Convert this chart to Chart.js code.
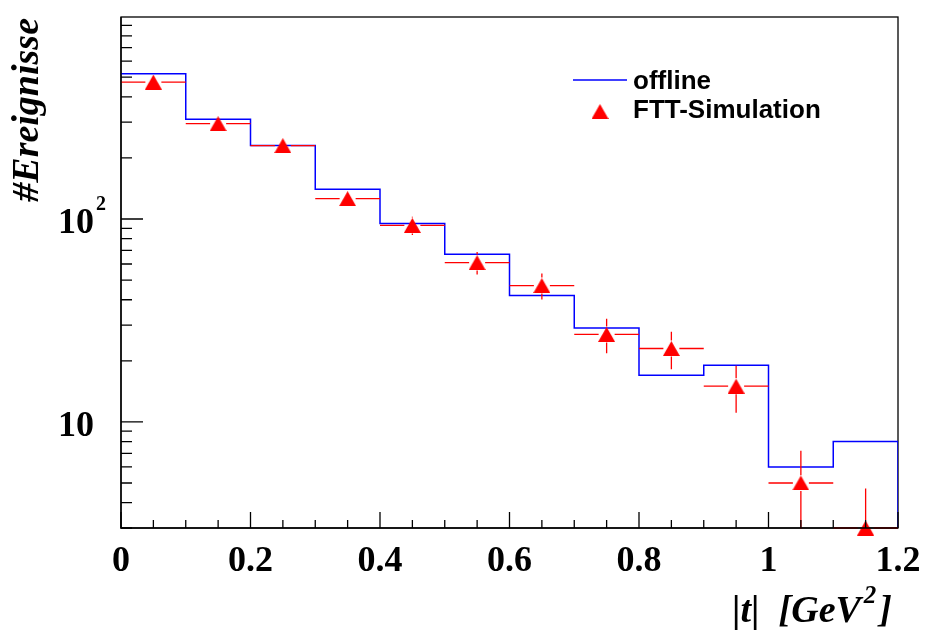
<!DOCTYPE html>
<html>
<head>
<meta charset="utf-8">
<script src="https://cdn.jsdelivr.net/npm/chart.js@4.4.0/dist/chart.umd.min.js"></script>
<style>
  body { margin: 0; background: #fff; }
  #wrap { width: 926px; height: 633px; }
</style>
</head>
<body>
<div id="wrap"><canvas id="tChart" width="926" height="633"></canvas></div>
<script>
// |t| distribution: offline histogram vs FTT simulation

const binEdges = [0, 0.1, 0.2, 0.3, 0.4, 0.5, 0.6, 0.7, 0.8, 0.9, 1.0, 1.1, 1.2];
const binCenters = [0.05, 0.15, 0.25, 0.35, 0.45, 0.55, 0.65, 0.75, 0.85, 0.95, 1.05, 1.15];
const offlineCounts = [520, 310, 230, 140, 95, 67, 42, 29, 17, 19, 6, 8];
const fttCounts = [473, 295, 230, 126, 93, 61, 47, 27, 23, 15, 5, 3];
const fttErrors = [21.7, 17.2, 15.2, 11.2, 9.6, 7.8, 6.9, 5.2, 4.8, 3.9, 2.2, 1.7];

const xTickValues = [0, 0.2, 0.4, 0.6, 0.8, 1.0, 1.2];
const xTickLabels = ['0', '0.2', '0.4', '0.6', '0.8', '1', '1.2'];
const yTickValues = [10, 100];
const yTickBase = ['10', '10'];
const yTickExp = ['', '2'];

const yMin = 3;
const yMax = 990;

const BLUE = '#0000ff';
const RED = '#ff0000';
const SERIF = '"Liberation Serif", "Times New Roman", serif';
const SANS = '"Liberation Sans", Arial, sans-serif';

// histogram outline: one point per left bin edge, stepped, then down to the axis at the end
const offlinePoints = offlineCounts.map((v, i) => ({ x: binEdges[i], y: v }));
offlinePoints.push({ x: binEdges[binEdges.length - 1], y: yMin });

const fttPoints = fttCounts.map((v, i) => ({ x: binCenters[i], y: v }));

// ROOT-like full triangle marker, centred on the point
const marker = document.createElement('canvas');
marker.width = 17;
marker.height = 15;
(function () {
    const m = marker.getContext('2d');
    m.fillStyle = RED;
    m.beginPath();
    m.moveTo(8.5, 0);
    m.lineTo(17, 15);
    m.lineTo(0, 15);
    m.closePath();
    m.fill();
})();

const rootStyle = {
    id: 'rootStyle',
    beforeDatasetsDraw(chart) {
        const a = chart.chartArea;
        const ctx = chart.ctx;
        ctx.save();
        ctx.strokeStyle = '#000';
        ctx.lineWidth = 1.3;
        ctx.strokeRect(a.left, a.top, a.right - a.left, a.bottom - a.top);
        ctx.restore();
    },
    beforeDatasetDraw(chart, args) {
        if (args.index !== 1) return;
        // error bars of the simulation, under the markers
        const xs = chart.scales.x, ys = chart.scales.y, ctx = chart.ctx, a = chart.chartArea;
        ctx.save();
        ctx.beginPath();
        ctx.rect(a.left - 1, a.top - 1, a.right - a.left + 2, a.bottom - a.top + 2);
        ctx.clip();
        ctx.strokeStyle = RED;
        ctx.lineWidth = 1.3;
        const gap = 8;
        fttCounts.forEach((v, i) => {
            const px = xs.getPixelForValue(binCenters[i]);
            const py = ys.getPixelForValue(v);
            const x0 = xs.getPixelForValue(binEdges[i]);
            const x1 = xs.getPixelForValue(binEdges[i + 1]);
            const yHi = ys.getPixelForValue(v + fttErrors[i]);
            const yLo = ys.getPixelForValue(Math.max(v - fttErrors[i], yMin * 0.5));
            ctx.beginPath();
            ctx.moveTo(x0, py); ctx.lineTo(px - gap, py);
            ctx.moveTo(px + gap, py); ctx.lineTo(x1, py);
            if (yHi < py - gap) { ctx.moveTo(px, yHi); ctx.lineTo(px, py - gap); }
            if (yLo > py + gap) { ctx.moveTo(px, py + gap); ctx.lineTo(px, yLo); }
            ctx.stroke();
        });
        ctx.restore();
    },
    afterDraw(chart) {
        const xs = chart.scales.x, ys = chart.scales.y, ctx = chart.ctx, a = chart.chartArea;
        ctx.save();
        ctx.strokeStyle = '#000';
        ctx.lineWidth = 1.3;

        // axis lines
        ctx.beginPath();
        ctx.moveTo(a.left, a.top); ctx.lineTo(a.left, a.bottom); ctx.lineTo(a.right, a.bottom);
        ctx.stroke();

        // x ticks (inward): major every 0.2, minor every 0.05
        ctx.beginPath();
        for (let k = 0; k <= 24; k++) {
            const px = xs.getPixelForValue(k * 0.05);
            const len = (k % 4 === 0) ? 16 : 8;
            ctx.moveTo(px, a.bottom); ctx.lineTo(px, a.bottom - len);
        }
        // y ticks (inward), log decades
        for (let dec = 1; dec <= 100; dec *= 10) {
            for (let m = 1; m <= 9; m++) {
                const v = m * dec;
                if (v < yMin || v > yMax) continue;
                const py = ys.getPixelForValue(v);
                const len = (m === 1) ? 22 : 11;
                ctx.moveTo(a.left, py); ctx.lineTo(a.left + len, py);
            }
        }
        ctx.stroke();

        ctx.fillStyle = '#000';
        // x tick labels
        ctx.font = 'bold 36px ' + SERIF;
        ctx.textAlign = 'center';
        ctx.textBaseline = 'alphabetic';
        xTickValues.forEach((v, i) => {
            ctx.fillText(xTickLabels[i], xs.getPixelForValue(v), a.bottom + 43);
        });

        // y tick labels with exponent
        yTickValues.forEach((v, i) => {
            const py = ys.getPixelForValue(v);
            ctx.font = 'bold 36px ' + SERIF;
            ctx.textAlign = 'right';
            ctx.fillText(yTickBase[i], 94, py + 14);
            if (yTickExp[i]) {
                ctx.font = 'bold 20px ' + SERIF;
                ctx.textAlign = 'left';
                ctx.fillText(yTickExp[i], 96, py - 9);
            }
        });

        // y title
        ctx.save();
        ctx.translate(38, 18);
        ctx.rotate(-Math.PI / 2);
        ctx.font = 'italic bold 38px ' + SERIF;
        ctx.textAlign = 'right';
        ctx.fillText('#Ereignisse', 0, 0);
        ctx.restore();

        // x title: |t| [GeV^2]
        const mainFont = 'italic bold 38px ' + SERIF;
        const supFont = 'italic bold 25px ' + SERIF;
        ctx.textAlign = 'left';
        ctx.font = mainFont;
        const w1 = ctx.measureText('|t|  [GeV').width;
        const w3 = ctx.measureText(']').width;
        ctx.font = supFont;
        const w2 = ctx.measureText('2').width + 6;
        let tx = 892 - (w1 + w2 + w3);
        ctx.font = mainFont;
        ctx.fillText('|t|  [GeV', tx, 622);
        ctx.font = supFont;
        ctx.fillText('2', tx + w1 + 3, 603);
        ctx.font = mainFont;
        ctx.fillText(']', tx + w1 + w2, 622);

        // legend
        ctx.strokeStyle = BLUE;
        ctx.lineWidth = 1.5;
        ctx.beginPath();
        ctx.moveTo(573, 80); ctx.lineTo(627, 80);
        ctx.stroke();
        ctx.drawImage(marker, 600 - 8.5, 104);
        ctx.fillStyle = '#000';
        ctx.font = 'bold 26px ' + SANS;
        ctx.textAlign = 'left';
        ctx.fillText('offline', 633, 89);
        ctx.fillText('FTT-Simulation', 633, 118);
        ctx.restore();
    }
};

const ctx = document.getElementById('tChart').getContext('2d');
const tChart = new Chart(ctx, {
    type: 'line',
    data: {
        datasets: [{
            label: 'offline',
            data: offlinePoints,
            stepped: 'before',
            borderColor: BLUE,
            borderWidth: 1.5,
            pointRadius: 0,
            fill: false,
            order: 2
        }, {
            label: 'FTT-Simulation',
            data: fttPoints,
            showLine: false,
            pointStyle: marker,
            pointRadius: 9,
            backgroundColor: RED,
            borderColor: RED,
            borderWidth: 0,
            clip: false,
            order: 1
        }]
    },
    options: {
        responsive: false,
        animation: false,
        devicePixelRatio: 1,
        layout: { padding: { left: 121, right: 28, top: 17, bottom: 105 } },
        scales: {
            x: { type: 'linear', min: 0, max: 1.2, display: false },
            y: { type: 'logarithmic', min: yMin, max: yMax, display: false }
        },
        plugins: {
            legend: { display: false },
            tooltip: { enabled: false }
        }
    },
    plugins: [rootStyle]
});
</script>
</body>
</html>
